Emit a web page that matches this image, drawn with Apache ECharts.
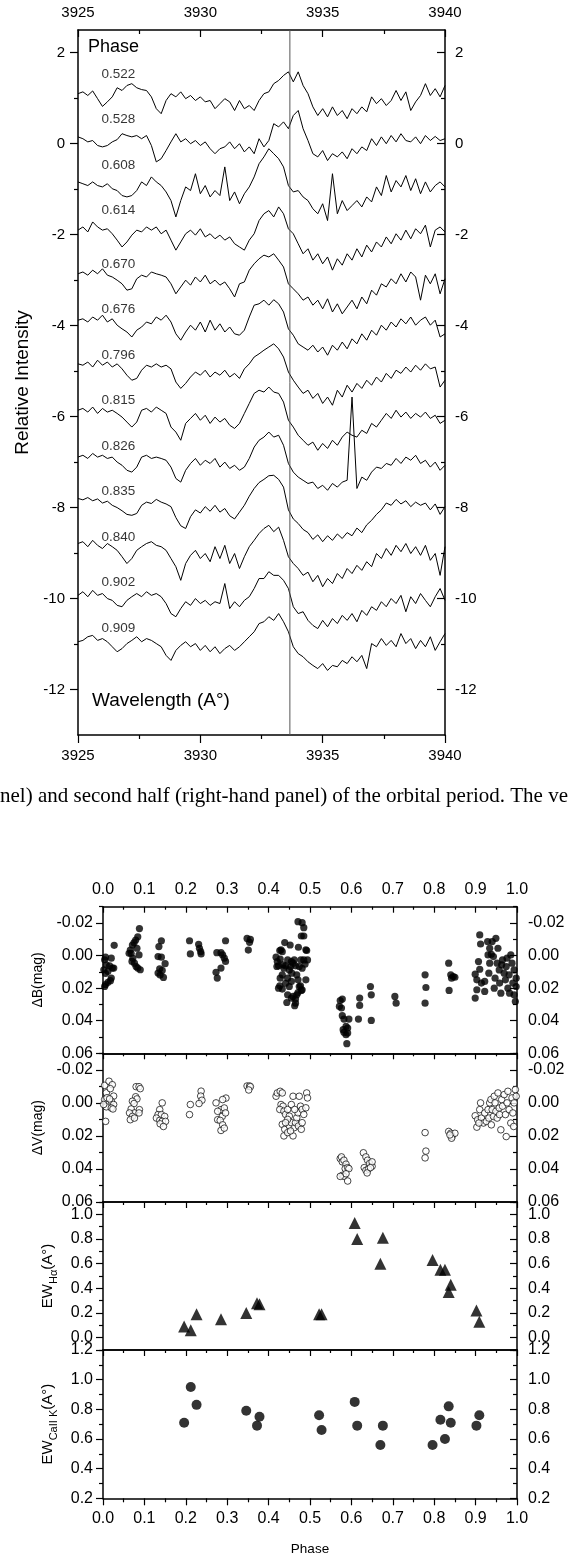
<!DOCTYPE html>
<html><head><meta charset="utf-8">
<script src="https://cdn.jsdelivr.net/npm/echarts@6/dist/echarts.min.js"></script>
<style>html,body{margin:0;padding:0;background:#fff}#c{width:571px;height:1557px}</style>
</head><body><div id="c"></div>
<script>
// ---------------- DATA: spectra (Ca II K region) ----------------
const WAVELENGTHS = [3925.0,3925.2,3925.4,3925.6,3925.8,3926.0,3926.2,3926.4,3926.6,3926.8,
3927.0,3927.2,3927.4,3927.6,3927.8,3928.0,3928.2,3928.4,3928.6,3928.8,
3929.0,3929.2,3929.4,3929.6,3929.8,3930.0,3930.2,3930.4,3930.6,3930.8,
3931.0,3931.2,3931.4,3931.6,3931.8,3932.0,3932.2,3932.4,3932.6,3932.8,
3933.0,3933.2,3933.4,3933.6,3933.8,3934.0,3934.2,3934.4,3934.6,3934.8,
3935.0,3935.2,3935.4,3935.6,3935.8,3936.0,3936.2,3936.4,3936.6,3936.8,
3937.0,3937.2,3937.4,3937.6,3937.8,3938.0,3938.2,3938.4,3938.6,3938.8,
3939.0,3939.2,3939.4,3939.6,3939.8,3940.0];
const SPECTRUM_PHASES = ['0.522','0.528','0.608','0.614','0.670','0.676','0.796','0.815','0.826','0.835','0.840','0.902','0.909'];
const SPECTRUM_OFFSETS = [1,0,-1,-2,-3,-4,-5,-6,-7,-8,-9,-10,-11];
const CAII_K_LINE = 3933.66;
const Y_TICKS_SPEC = [2,0,-2,-4,-6,-8,-10,-12];
const Y_MINOR_SPEC = [1,-1,-3,-5,-7,-9,-11];

const SPEC_0522 = [.10,.14,.06,.16,-.01,-.18,-.08,.03,.23,.17,.28,.32,.23,.19,.17,.03,-.23,-.34,-.05,.10,.03,.14,-.01,.06,-.05,.03,-.08,-.05,-.23,-.12,-.01,-.08,-.27,-.05,-.23,-.16,-.27,-.05,.10,.14,.32,.39,.50,.58,.36,.58,.28,.10,-.19,-.38,-.23,-.41,-.19,-.38,-.27,-.45,-.23,-.34,-.19,-.30,.03,-.12,-.01,-.16,-.05,.17,-.05,.14,-.27,-.08,.06,.32,.06,.21,.03,.28];
const SPEC_0528 = [.15,.11,.04,.07,-.04,-.07,-.04,.04,.09,.22,.18,.15,.18,.11,.18,-.04,-.40,-.33,-.15,.04,.22,.04,.11,0,.07,-.04,.04,-.11,-.22,-.11,-.07,.04,-.11,0,-.18,-.07,-.22,.11,-.07,.07,.44,.37,.48,.33,.62,.73,.33,.07,-.22,-.29,-.15,-.37,-.22,-.29,-.18,-.33,-.11,-.22,-.07,-.15,.11,-.04,.15,0,.18,.04,.22,.07,.04,.15,0,.18,.07,.16,.07,.11];
const SPEC_0608 = [.16,.12,.08,.16,.08,.05,.12,.01,-.03,-.14,-.17,-.14,-.03,.16,.08,.27,.16,.08,-.06,-.25,-.61,-.25,.05,-.03,.34,-.10,.08,-.17,-.03,-.14,.49,-.25,-.06,-.32,-.10,.05,.27,.56,.71,.89,.78,.67,.49,.08,-.06,-.03,-.17,-.25,-.43,-.54,-.32,-.69,.34,-.54,-.25,-.47,-.36,-.25,-.39,-.17,-.28,.05,-.14,.30,-.06,.19,.05,.30,-.03,.23,-.10,.16,-.06,.08,.16,.05];
const SPEC_0614 = [.10,.17,.06,.28,.17,.10,.13,.02,-.12,-.27,-.16,-.01,.10,.06,.17,.10,.17,.02,.10,-.12,-.34,-.16,.02,.10,-.01,.13,-.05,.02,-.09,-.01,-.12,-.05,-.20,-.27,-.34,-.12,.02,.31,.46,.53,.39,.61,.46,.13,.02,-.20,-.42,-.31,-.56,-.42,-.64,-.49,-.78,-.53,-.67,-.42,-.56,-.31,-.49,-.23,-.38,-.16,-.27,-.05,-.20,.02,-.12,.10,-.09,.13,.02,.21,-.27,.10,.17,.06];
const SPEC_0670 = [.14,.18,.11,.22,.14,.25,.11,.07,0,-.08,-.22,-.19,.03,.11,.07,.18,.14,.11,.07,-.08,-.30,-.15,0,-.11,.07,-.04,.11,-.08,0,-.11,-.04,-.19,-.37,-.08,-.04,.22,.36,.47,.55,.51,.58,.44,.29,-.08,-.19,-.30,-.44,-.37,-.55,-.44,-.63,-.41,-.70,-.52,-.74,-.59,-.44,-.63,-.37,-.52,-.22,-.33,-.08,-.15,.03,-.08,.14,-.04,.18,.07,-.44,.11,-.08,.14,-.30,.03];
const SPEC_0676 = [.12,.15,.08,.19,.12,.23,.08,.15,.01,-.07,-.14,-.25,-.10,-.03,.08,.04,.19,.12,.23,.08,-.18,-.32,-.14,.01,-.10,.08,-.14,.12,-.10,.04,-.14,-.03,-.18,-.21,-.10,.19,.45,.48,.56,.45,.57,.48,.30,-.07,-.21,-.40,-.47,-.54,-.43,-.58,-.47,-.65,-.43,-.54,-.36,-.51,-.29,-.40,-.18,-.32,-.10,-.21,.01,-.10,.08,-.03,.15,.04,.19,.01,.12,.19,.01,.12,-.25,-.18];
const SPEC_0796 = [.16,.13,.20,.09,.24,.13,.20,.09,.16,.05,-.09,-.20,-.16,.02,.13,.09,.16,.09,.13,.05,-.24,-.38,-.27,-.13,-.02,-.09,.02,-.13,-.02,-.09,.02,-.13,-.05,-.16,.05,.16,.31,.38,.46,.53,.60,.49,.31,-.02,-.20,-.35,-.49,-.42,-.60,-.49,-.71,-.57,-.75,-.42,-.57,-.31,-.46,-.27,-.38,-.20,-.31,-.13,-.24,-.05,-.16,.02,-.05,.09,-.02,.13,.02,.16,.05,.09,-.35,-.20];
const SPEC_0815 = [.14,.18,.10,.21,.07,.18,.10,.14,.07,-.01,-.12,-.23,-.12,.14,.18,.10,.21,.14,.07,-.23,-.34,-.52,-.15,-.04,.07,-.08,.03,-.15,-.01,-.12,-.04,-.19,-.26,-.15,.07,.29,.51,.58,.54,.65,.54,.51,.32,-.08,-.23,-.41,-.52,-.63,-.56,-.74,-.59,-.70,-.52,-.63,-.45,-.34,-.41,-.45,-.30,-.37,-.15,-.23,-.08,.07,-.04,.14,-.01,.10,-.04,.07,-.01,.10,-.04,.03,-.15,-.08];
const SPEC_0826 = [.11,.15,.08,.19,.11,.15,.08,.11,0,-.07,-.18,-.22,-.11,.11,.15,.08,.11,.08,.04,-.11,-.36,-.44,-.18,-.03,.08,-.07,.04,-.03,.08,-.11,0,-.14,-.07,-.18,-.11,.08,.33,.48,.55,.66,.55,.59,.37,-.03,-.22,-.33,-.40,-.47,-.44,-.58,-.51,-.62,-.47,-.55,-.44,-.40,1.43,-.58,-.33,-.40,-.22,-.11,-.14,-.03,-.07,.08,-.03,.11,.04,.15,-.03,.04,-.11,0,-.18,-.07];
const SPEC_0835 = [.20,.17,.22,.15,.19,.10,.14,.05,0,-.07,-.15,-.17,-.13,.05,.12,.09,.18,.12,.08,.02,-.22,-.40,-.46,-.20,-.05,-.12,.02,-.08,.05,-.10,-.02,-.18,-.25,-.10,.05,.25,.42,.55,.62,.70,.71,.62,.45,-.05,-.25,-.35,-.48,-.55,-.70,-.60,-.75,-.62,-.72,-.58,-.68,-.55,-.62,-.45,-.55,-.38,-.28,-.15,-.05,.10,.05,.18,.08,.15,.02,.12,.05,.10,-.05,.08,-.15,.02];
const SPEC_0840 = [.21,.25,.14,.28,.17,.10,.21,.14,.06,-.08,-.23,-.12,.06,.14,.21,.25,.17,.14,.06,-.12,-.30,-.60,-.23,-.05,.06,-.12,-.01,-.19,.14,-.12,.17,-.23,-.01,-.34,-.08,.14,.28,.43,.54,.61,.47,.57,.28,-.08,-.23,-.34,-.49,-.42,-.63,-.49,-.74,-.56,-.67,-.45,-.56,-.34,-.45,-.27,-.38,-.19,-.30,-.01,-.12,.10,-.05,.17,.03,.21,-.01,.14,-.05,.17,-.16,-.01,-.49,.14];
const SPEC_0902 = [.07,.15,.04,.18,.07,.11,0,-.04,-.15,-.18,-.04,.04,.11,.04,.15,.07,.11,.04,-.11,-.33,-.40,-.22,-.07,-.15,0,-.11,-.04,-.15,-.07,-.11,.33,-.22,-.07,-.18,-.04,.04,.22,.44,.44,.59,.51,.51,.40,.22,-.18,-.33,-.29,-.48,-.59,-.66,-.48,-.62,-.44,-.55,-.37,-.48,-.33,-.51,-.26,-.37,-.18,-.26,-.07,-.18,0,-.11,.07,-.29,.04,-.11,.11,-.04,-.18,.04,.22,-.04];
const SPEC_0909 = [.05,.08,.16,.19,.08,.12,.05,-.06,-.17,-.10,.01,.08,.16,.05,.12,.08,.01,-.06,-.25,-.36,-.14,-.03,.05,-.06,.01,-.14,-.03,-.17,-.06,-.21,-.10,-.03,-.14,-.06,.05,.16,.27,.45,.49,.60,.52,.67,.49,.27,-.06,-.21,-.28,-.39,-.47,-.54,-.43,-.58,-.47,-.50,-.36,-.43,-.28,-.39,-.25,-.54,.01,-.06,.12,-.03,.08,-.06,.23,.01,.12,-.10,.08,-.06,.16,-.14,.05,.23];
const SPECTRA = [SPEC_0522,SPEC_0528,SPEC_0608,SPEC_0614,SPEC_0670,SPEC_0676,SPEC_0796,SPEC_0815,SPEC_0826,SPEC_0835,SPEC_0840,SPEC_0902,SPEC_0909];

// ---------------- DATA: photometry & equivalent widths ----------------
const MAG_TICKS_MAJOR = [-0.02,0,0.02,0.04,0.06];
const MAG_TICKS_MINOR = [-0.03,-0.01,0.01,0.03,0.05];
const DELTA_B = [
[0.006,0.001],[0.004,0.0026],[0.008,0.0057],[0.002,0.0087],[0.006,0.011],[0.012,0.0097],[0.016,0.0063],[0.020,0.0016],[0.0225,0.0077],[0.026,0.0077],[0.020,0.0138],[0.018,0.0154],[0.012,0.0164],[0.006,0.0178],[0.004,0.019],[0.027,-0.0063],
[0.063,-0.0014],[0.066,-0.0034],[0.071,-0.0065],[0.075,-0.0079],[0.079,-0.0095],[0.084,-0.0115],[0.088,-0.0166],[0.082,-0.0045],[0.087,-0.0004],[0.068,-0.0014],[0.072,0.0016],[0.070,0.0036],[0.076,0.0047],[0.080,0.0067],[0.084,0.0077],[0.090,0.0087],
[0.141,-0.0091],[0.135,-0.0055],[0.133,0.0006],[0.141,0.001],[0.150,0.005],[0.137,0.0081],[0.143,0.0091],[0.133,0.0107],[0.138,0.012],[0.146,0.0134],
[0.209,-0.0091],[0.211,-0.001],[0.231,-0.0069],[0.233,-0.0045],[0.236,-0.0024],[0.237,-0.001],
[0.296,-0.0091],[0.275,-0.0018],[0.285,-0.0018],[0.289,-0.0004],[0.293,0.0016],[0.296,0.0036],[0.285,0.0077],[0.273,0.0103],[0.276,0.0138],
[0.348,-0.0105],[0.356,-0.0099],[0.354,-0.0081],[0.351,-0.0034],
[0.418,0.001],[0.421,0.0037],[0.424,0.0063],[0.427,-0.0031],[0.428,0.0022],[0.430,-0.0035],[0.433,-0.0024],[0.435,0.0057],[0.439,-0.008],[0.441,0.0063],[0.446,0.0027],[0.452,-0.0065],[0.453,0.0067],[0.455,0.0037],[0.456,0.0108],[0.459,0.0047],[0.462,0.0027],[0.465,0.0063],[0.468,0.0118],[0.471,0.0149],[0.455,0.0159],[0.446,0.0139],[0.428,0.0139],[0.427,0.0186],[0.424,0.02],[0.433,0.0206],[0.446,0.0241],[0.450,0.019],[0.444,0.0288],[0.455,0.0261],[0.459,0.0251],[0.463,0.0308],[0.465,0.0267],[0.468,0.0241],[0.471,0.0227],[0.474,0.019],[0.477,0.0186],[0.479,0.0214],[0.481,0.021],[0.465,0.0292],[0.474,0.0067],[0.481,0.0078],[0.472,-0.0051],[0.478,0.0027],[0.485,0.0027],[0.490,-0.0035],[0.492,-0.0031],[0.494,0.0027],[0.490,0.0149],[0.471,-0.0208],[0.481,-0.0202],[0.485,-0.0171],[0.479,-0.012],[0.485,-0.012],[0.488,0.0053],[0.437,0.0078],[0.450,0.0088],[0.420,0.0067],[0.433,0.0118],[0.441,0.017],
[0.573,0.0276],[0.578,0.0267],[0.571,0.0312],[0.576,0.0322],[0.578,0.0369],[0.582,0.039],[0.587,0.0435],[0.582,0.0471],[0.587,0.0486],[0.591,0.0476],[0.589,0.0541],[0.594,0.039],[0.580,0.0455],[0.591,0.0445],
[0.620,0.0261],[0.620,0.0306],[0.617,0.039],[0.646,0.019],[0.648,0.0241],[0.648,0.0398],[0.705,0.0251],[0.708,0.0292],
[0.778,0.0118],[0.780,0.0196],[0.778,0.0292],
[0.835,0.0047],[0.840,0.0118],[0.846,0.0129],[0.850,0.0133],[0.842,0.0139],[0.836,0.0214],
[0.899,0.0114],[0.899,0.0261],[0.903,0.0149],[0.903,0.021],[0.907,0.0037],[0.910,-0.0127],[0.912,-0.0071],[0.910,0.0084],[0.914,0.0169],[0.922,0.0159],[0.929,-0.0086],[0.930,-0.0004],[0.932,0.0108],[0.934,-0.0045],[0.934,0.0047],[0.938,-0.0008],[0.940,-0.0086],[0.943,0.0006],[0.947,0.0139],[0.945,0.02],[0.949,-0.0106],[0.952,0.0047],[0.954,-0.0045],[0.957,0.0088],[0.958,0.0169],[0.961,0.0231],[0.963,0.0057],[0.965,0.0027],[0.969,0.0108],[0.972,0.0149],[0.974,0.0067],[0.976,0.0016],[0.978,0.02],[0.981,0.0118],[0.982,0.0231],[0.985,-0.0004],[0.988,0.0047],[0.990,0.0169],[0.993,0.0088],[0.993,0.0241],[0.996,0.0282],[0.998,0.0139],[0.998,0.019],[0.922,0.022]
];
const DELTA_V = [
[0.004,-0.0106],[0.0145,-0.0131],[0.0225,-0.011],[0.008,-0.0061],[0.0177,-0.0086],[0.0257,-0.0041],[0.004,-0.002],[0.0145,0.0],[0.020,-0.001],[0.0257,0.001],[0.008,0.0024],[0.020,0.0031],[0.024,0.0037],[0.0064,0.0112],[0.0096,-0.0031],[0.016,-0.0024],[0.0016,0.001],
[0.080,-0.0098],[0.087,-0.0098],[0.090,-0.0086],[0.079,-0.0037],[0.082,-0.0024],[0.071,-0.001],[0.075,0.0004],[0.068,0.0037],[0.076,0.0061],[0.088,0.0041],[0.064,0.0061],[0.071,0.0082],[0.066,0.0102],[0.076,0.0092],[0.087,0.0061],
[0.143,0.0],[0.137,0.0041],[0.133,0.0071],[0.141,0.0071],[0.149,0.0082],[0.129,0.0092],[0.137,0.0106],[0.143,0.0112],[0.151,0.0112],[0.138,0.0127],[0.146,0.0143],
[0.211,0.001],[0.209,0.0071],[0.237,-0.0071],[0.236,-0.0041],[0.239,-0.0016],[0.232,0.0004],
[0.273,0.0],[0.285,0.0041],[0.277,0.0051],[0.293,0.0031],[0.297,-0.0029],[0.289,-0.002],[0.288,0.0082],[0.296,0.0061],[0.277,0.0102],[0.283,0.0106],[0.289,0.0133],[0.285,0.0167],[0.293,0.0153],
[0.348,-0.0102],[0.354,-0.0102],[0.356,-0.0098],[0.352,-0.0078],
[0.418,-0.004],[0.421,-0.006],[0.428,-0.007],[0.433,-0.006],[0.430,0.001],[0.435,0.002],[0.427,0.004],[0.437,0.005],[0.441,0.007],[0.446,0.004],[0.450,0.008],[0.433,0.013],[0.439,0.016],[0.437,0.020],[0.446,0.018],[0.450,0.014],[0.455,0.012],[0.459,0.020],[0.462,0.015],[0.465,0.012],[0.468,0.009],[0.471,0.006],[0.459,-0.004],[0.474,-0.004],[0.477,0.002],[0.481,0.004],[0.485,0.007],[0.490,0.003],[0.492,-0.006],[0.494,-0.003],[0.455,0.001],[0.463,0.004],[0.446,0.010],[0.472,0.014],[0.479,0.016],[0.453,0.017],[0.441,0.012],[0.481,0.012],
[0.573,0.0337],[0.576,0.0327],[0.578,0.0357],[0.582,0.0347],[0.587,0.0371],[0.585,0.0398],[0.591,0.0392],[0.594,0.0398],[0.578,0.0439],[0.582,0.0445],[0.587,0.0429],[0.591,0.0473],[0.573,0.0445],
[0.629,0.0302],[0.635,0.0327],[0.639,0.0347],[0.644,0.0367],[0.650,0.0384],[0.631,0.0392],[0.635,0.0408],[0.641,0.04],[0.650,0.0357],[0.638,0.0424],[0.646,0.0392],
[0.778,0.018],[0.780,0.0292],[0.778,0.0333],
[0.835,0.0173],[0.840,0.0184],[0.843,0.0204],[0.850,0.0184],[0.842,0.0214],[0.838,0.0194],
[0.899,0.0078],[0.903,0.0147],[0.905,0.0102],[0.910,0.0041],[0.914,0.0092],[0.919,0.0122],[0.922,0.0061],[0.926,0.0112],[0.930,0.0041],[0.932,0.0092],[0.934,0.0],[0.937,-0.002],[0.938,0.0133],[0.940,0.0041],[0.943,0.0082],[0.945,-0.004],[0.947,0.0],[0.949,0.0051],[0.952,0.0092],[0.954,-0.006],[0.957,0.0031],[0.958,0.0071],[0.961,0.0163],[0.963,-0.002],[0.965,0.002],[0.969,-0.005],[0.972,0.0071],[0.974,0.0204],[0.976,0.0],[0.978,-0.007],[0.981,0.0041],[0.985,0.0122],[0.988,-0.003],[0.990,0.0061],[0.992,0.0143],[0.993,0.0],[0.996,-0.008],[0.998,-0.004],[0.912,0.0],[0.908,0.0122]
];
const EW_HA_PHASE = [0.196,0.212,0.226,0.285,0.346,0.372,0.378,0.522,0.528,0.608,0.614,0.670,0.676,0.796,0.815,0.826,0.835,0.840,0.902,0.909];
const EW_HA = [0.09,0.06,0.19,0.15,0.20,0.28,0.27,0.19,0.19,0.93,0.80,0.60,0.81,0.63,0.55,0.55,0.37,0.43,0.22,0.13];
const EW_CAK_PHASE = [0.196,0.212,0.226,0.346,0.372,0.378,0.522,0.528,0.608,0.614,0.670,0.676,0.796,0.815,0.826,0.835,0.840,0.902,0.909];
const EW_CAK = [0.71,0.95,0.83,0.79,0.69,0.75,0.76,0.66,0.85,0.69,0.56,0.69,0.56,0.73,0.60,0.82,0.71,0.69,0.76];
const HA_TICKS_MAJOR = [0,0.2,0.4,0.6,0.8,1.0];
const HA_TICKS_MINOR = [-0.1,0.1,0.3,0.5,0.7,0.9,1.1];
const CAK_TICKS_MAJOR = [0.2,0.4,0.6,0.8,1.0,1.2];
const CAK_TICKS_MINOR = [0.3,0.5,0.7,0.9,1.1];

// ---------------- CHART ----------------
const FONT = '"Liberation Sans", Arial, Helvetica, sans-serif';
const BLACK = '#000';
const LINE = {color: BLACK, width: 1.5};
const TICK = {color: BLACK, width: 1.2};

const grids = [
  {left: 78, top: 30, width: 367, height: 705},
  {left: 103, top: 906.7, width: 414, height: 146.6},
  {left: 103, top: 1053.3, width: 414, height: 148.7},
  {left: 103, top: 1202, width: 414, height: 148},
  {left: 103, top: 1350, width: 414, height: 148.3}
].map(g => Object.assign({containLabel: false, outerBoundsMode: 'none'}, g));

const xAxes = [];
const yAxes = [];

function xAxis(grid, pos, min, max, interval, o) {
  xAxes.push({
    gridIndex: grid, type: 'value', position: pos, min: min, max: max, interval: interval,
    axisLine: {show: true, onZero: false, lineStyle: LINE},
    axisTick: {show: o.ticks !== false, inside: !!o.inside, length: o.tickLen || 6, lineStyle: TICK},
    minorTick: {show: o.ticks !== false, splitNumber: 2, length: o.minorLen || 4, lineStyle: TICK},
    axisLabel: {show: !!o.labels, color: BLACK, fontSize: o.fontSize || 16, fontFamily: FONT, margin: o.margin || 8,
                formatter: o.fmt},
    splitLine: {show: false}, minorSplitLine: {show: false},
    name: o.name || '', nameLocation: 'middle', nameGap: o.nameGap || 30,
    nameTextStyle: {color: BLACK, fontSize: 13.5, fontFamily: FONT}
  });
  return xAxes.length - 1;
}

function yAxis(grid, min, max, inverse, majors, minors, fmt, o) {
  const base = {gridIndex: grid, type: 'value', min: min, max: max, inverse: inverse,
    splitLine: {show: false}, minorTick: {show: false}, minorSplitLine: {show: false}};
  const fs = o.fontSize || 16;
  const first = yAxes.length;
  yAxes.push(Object.assign({}, base, {
    position: 'left',
    axisLine: {show: true, onZero: false, lineStyle: LINE},
    axisTick: {show: true, inside: false, length: o.tickLen || 6, lineStyle: TICK, customValues: majors},
    axisLabel: {show: true, customValues: majors, formatter: fmt, color: BLACK, fontSize: fs, fontFamily: FONT, margin: o.leftMargin},
    name: o.name, nameLocation: 'middle', nameGap: o.nameGap, nameRotate: 90,
    nameTextStyle: o.nameStyle
  }));
  yAxes.push(Object.assign({}, base, {
    position: 'left',
    axisLine: {show: false, onZero: false},
    axisTick: {show: true, inside: false, length: o.minorLen || 4, lineStyle: TICK, customValues: minors},
    axisLabel: {show: false}
  }));
  yAxes.push(Object.assign({}, base, {
    position: 'right',
    axisLine: {show: true, onZero: false, lineStyle: LINE},
    axisTick: {show: true, inside: true, length: o.tickLen || 6, lineStyle: TICK, customValues: majors},
    axisLabel: {show: true, customValues: majors, formatter: fmt, color: BLACK, fontSize: fs, fontFamily: FONT, margin: o.rightMargin}
  }));
  yAxes.push(Object.assign({}, base, {
    position: 'right',
    axisLine: {show: false, onZero: false},
    axisTick: {show: true, inside: true, length: o.minorLen || 4, lineStyle: TICK, customValues: minors},
    axisLabel: {show: false}
  }));
  return first;
}

// ---- top panel (spectra) ----
const wlFmt = v => String(v);
const xSpec = xAxis(0, 'bottom', 3925, 3940, 5, {labels: true, tickLen: 8, minorLen: 4, margin: 13, fontSize: 15, fmt: wlFmt});
xAxis(0, 'top', 3925, 3940, 5, {labels: true, inside: true, tickLen: 7, minorLen: 4, margin: 10, fontSize: 15, fmt: wlFmt});
const ySpec = yAxis(0, -13, 2.5, false, Y_TICKS_SPEC, Y_MINOR_SPEC, v => String(v), {
  name: 'Relative Intensity', nameGap: 45, leftMargin: 13, rightMargin: 10, tickLen: 8, fontSize: 15,
  nameStyle: {color: BLACK, fontSize: 19, fontFamily: FONT}
});

// ---- bottom panels ----
const phaseFmt = v => v.toFixed(1);
xAxis(1, 'top', 0, 1, 0.1, {labels: true, inside: true, tickLen: 6, minorLen: 3, margin: 9, fmt: phaseFmt});
const xB = xAxis(1, 'bottom', 0, 1, 0.1, {ticks: false});
xAxis(2, 'top', 0, 1, 0.1, {inside: true, tickLen: 6, minorLen: 3});
const xV = xAxis(2, 'bottom', 0, 1, 0.1, {ticks: false});
xAxis(3, 'top', 0, 1, 0.1, {inside: true, tickLen: 6, minorLen: 3});
const xH = xAxis(3, 'bottom', 0, 1, 0.1, {ticks: false});
xAxis(4, 'top', 0, 1, 0.1, {inside: true, tickLen: 6, minorLen: 3});
const xK = xAxis(4, 'bottom', 0, 1, 0.1, {labels: true, tickLen: 7, minorLen: 4, margin: 12, fmt: phaseFmt, name: 'Phase', nameGap: 44});

const magFmt = v => v.toFixed(2);
const ewFmt = v => v.toFixed(1);
const smallName = {color: BLACK, fontSize: 14, fontFamily: FONT};
const yB = yAxis(1, -0.03, 0.06, true, MAG_TICKS_MAJOR, MAG_TICKS_MINOR, magFmt,
  {name: 'ΔB(mag)', nameGap: 57, leftMargin: 10, rightMargin: 11, tickLen: 7, nameStyle: smallName});
const yV = yAxis(2, -0.03, 0.06, true, MAG_TICKS_MAJOR, MAG_TICKS_MINOR, magFmt,
  {name: 'ΔV(mag)', nameGap: 57, leftMargin: 10, rightMargin: 11, tickLen: 7, nameStyle: smallName});
const richEW = {
  m: {fontSize: 15, fontFamily: FONT, color: BLACK, lineHeight: 24, verticalAlign: 'middle'},
  s: {fontSize: 11, fontFamily: FONT, color: BLACK, lineHeight: 24, verticalAlign: 'bottom'}
};
const yH = yAxis(3, -0.1, 1.1, false, HA_TICKS_MAJOR, HA_TICKS_MINOR, ewFmt,
  {name: '{m|EW}{s|Hα}{m|(A°)}', nameGap: 42, leftMargin: 10, rightMargin: 11, tickLen: 7,
   nameStyle: {rich: richEW}});
const yK = yAxis(4, 0.2, 1.2, false, CAK_TICKS_MAJOR, CAK_TICKS_MINOR, ewFmt,
  {name: '{m|EW}{s|CaII K}{m|(A°)}', nameGap: 42, leftMargin: 10, rightMargin: 11, tickLen: 7,
   nameStyle: {rich: richEW}});

// ---- series ----
const series = [];
SPECTRA.forEach((spec, i) => {
  series.push({
    type: 'line', xAxisIndex: xSpec, yAxisIndex: ySpec, showSymbol: false, symbol: 'none',
    lineStyle: {color: BLACK, width: 1}, silent: true,
    data: WAVELENGTHS.map((w, k) => [w, spec[k] + SPECTRUM_OFFSETS[i]])
  });
});
series.push({
  type: 'line', xAxisIndex: xSpec, yAxisIndex: ySpec, showSymbol: false, symbol: 'none', silent: true,
  lineStyle: {color: '#555', width: 1},
  data: [[CAII_K_LINE, -13], [CAII_K_LINE, 2.5]]
});
series.push({
  type: 'scatter', xAxisIndex: xSpec, yAxisIndex: ySpec, symbolSize: 0, silent: true,
  label: {show: true, position: 'inside', formatter: '{b}', color: BLACK, fontSize: 13.5, fontFamily: FONT},
  data: SPECTRUM_PHASES.map((p, i) => ({name: p, value: [3926.65, SPECTRUM_OFFSETS[i] + (i < 4 ? 0.53 : 0.35)]}))
});
series.push({
  type: 'scatter', xAxisIndex: xB, yAxisIndex: yB, symbol: 'circle', symbolSize: 7.2, silent: true,
  itemStyle: {color: BLACK}, data: DELTA_B
});
series.push({
  type: 'scatter', xAxisIndex: xV, yAxisIndex: yV, symbol: 'circle', symbolSize: 6.6, silent: true,
  itemStyle: {color: '#fff', borderColor: BLACK, borderWidth: 0.9}, data: DELTA_V
});
series.push({
  type: 'scatter', xAxisIndex: xH, yAxisIndex: yH, symbol: 'triangle', symbolSize: 12, silent: true,
  itemStyle: {color: BLACK}, data: EW_HA_PHASE.map((p, i) => [p, EW_HA[i]])
});
series.push({
  type: 'scatter', xAxisIndex: xK, yAxisIndex: yK, symbol: 'circle', symbolSize: 10, silent: true,
  itemStyle: {color: BLACK}, data: EW_CAK_PHASE.map((p, i) => [p, EW_CAK[i]])
});

const chart = echarts.init(document.getElementById('c'), null, {renderer: 'canvas'});
chart.setOption({
  animation: false,
  backgroundColor: '#fff',
  grid: grids,
  xAxis: xAxes,
  yAxis: yAxes,
  series: series,
  graphic: [
    {type: 'text', left: 88, top: 38, silent: true,
     style: {text: 'Phase', fontSize: 18, fontFamily: FONT, fill: BLACK}},
    {type: 'text', left: 92, top: 691, silent: true,
     style: {text: 'Wavelength (A°)', fontSize: 19, fontFamily: FONT, fill: BLACK}},
    {type: 'text', left: 0, top: 786, silent: true,
     style: {text: 'nel) and second half (right-hand panel) of the orbital period. The ve',
             fontSize: 21, fontFamily: '"Liberation Serif", "Times New Roman", serif', fill: BLACK}}
  ]
});
</script></body></html>
